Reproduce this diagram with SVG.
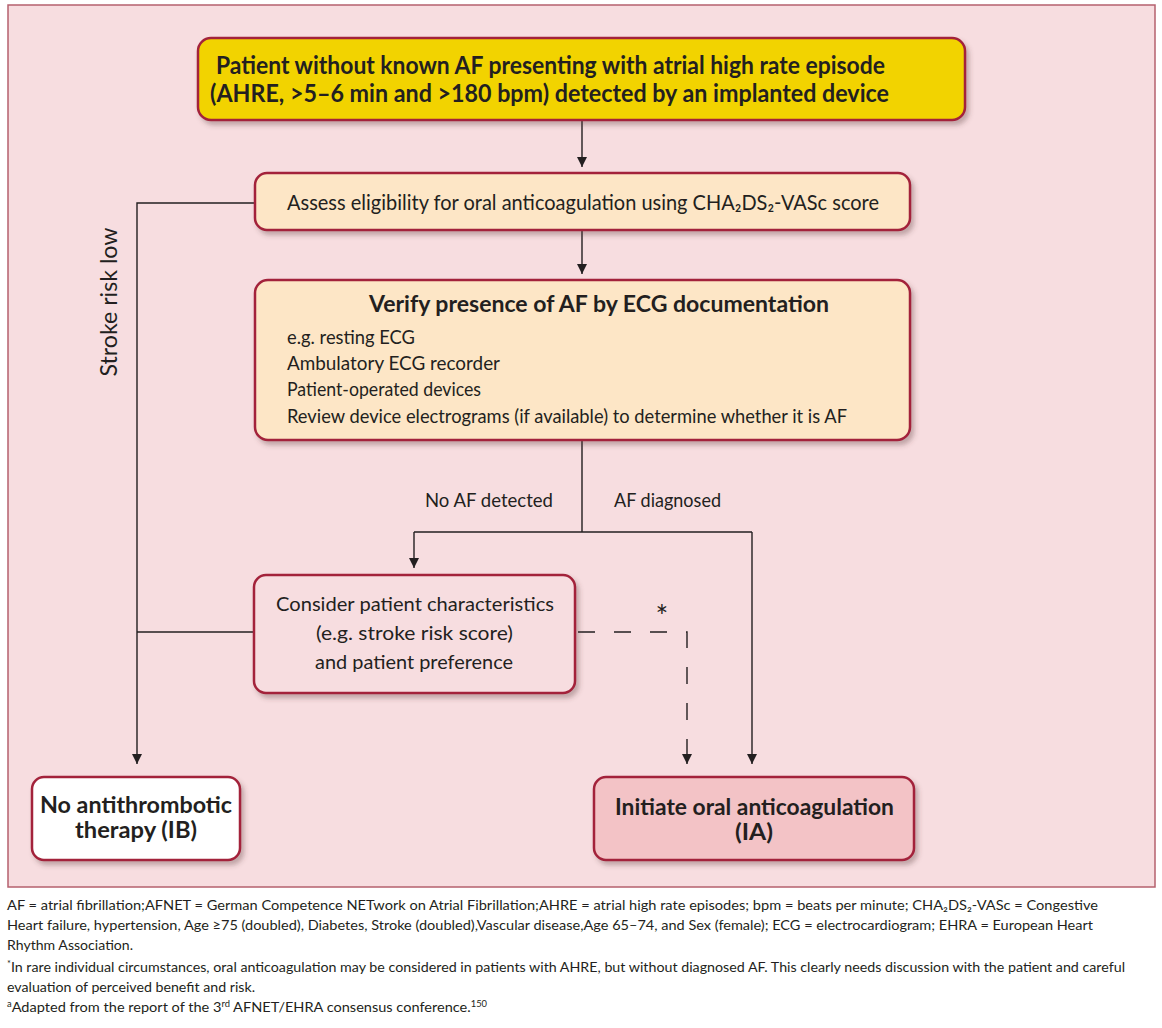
<svg xmlns="http://www.w3.org/2000/svg" width="1162" height="1028" viewBox="0 0 1162 1028">
  <defs>
    <filter id="shadow" x="-10%" y="-10%" width="125%" height="135%">
      <feDropShadow dx="3" dy="4" stdDeviation="2.5" flood-color="#5a3a3a" flood-opacity="0.35"/>
    </filter>
    <marker id="arrow" markerUnits="userSpaceOnUse" markerWidth="10" markerHeight="12" refX="10" refY="5" orient="auto">
      <path d="M0,0 L10,5 L0,10 z" fill="#231f20"/>
    </marker>
  </defs>
  <style>
    .box { stroke: #a3243b; stroke-width: 2.5; filter: url(#shadow); }
    .t { font-family: Lato, "Liberation Sans", sans-serif; fill: #231f20; }
    .b { font-weight: bold; }
    .n20 { font-size: 20px; }
    .foot { font-family: Lato, "Liberation Sans", sans-serif; font-size: 14px; fill: #231f20; }
    .conn { fill: none; stroke: #231f20; stroke-width: 1.4; }
    .dash { stroke-dasharray: 17 19; }
  </style>

  <rect width="1162" height="1028" fill="#ffffff"/>
  <!-- background panel -->
  <rect x="8" y="5" width="1147" height="882" fill="#f7dde0" stroke="#b5606e" stroke-width="1.5"/>

  <!-- connectors -->
  <g id="connectors">
    <path class="conn" d="M582,120 V167" marker-end="url(#arrow)"/>
    <path class="conn" d="M582,230 V274" marker-end="url(#arrow)"/>
    <path class="conn" d="M582,440 V532 M414,532 H752"/>
    <path class="conn" d="M414,532 V568" marker-end="url(#arrow)"/>
    <path class="conn" d="M752,532 V764" marker-end="url(#arrow)"/>
    <path class="conn" d="M255,203 H137 V764" marker-end="url(#arrow)"/>
    <path class="conn" d="M254,632 H137"/>
    <path class="conn dash" d="M578,632 H687 V750"/>
    <path class="conn" d="M687,750 V764" marker-end="url(#arrow)"/>
    <text class="t" x="662" y="627" font-size="30" text-anchor="middle">*</text>
    <text class="t n20" x="425" y="507" textLength="128" lengthAdjust="spacingAndGlyphs">No AF detected</text>
    <text class="t n20" x="614" y="507" textLength="107" lengthAdjust="spacingAndGlyphs">AF diagnosed</text>
    <text class="t" font-size="23" text-anchor="middle" transform="translate(117,302) rotate(-90)" textLength="149" lengthAdjust="spacingAndGlyphs">Stroke risk low</text>
  </g>

  <g id="start">
    <rect class="box" x="198" y="38" width="767" height="82" rx="13" fill="#f2d300"/>
    <text class="t b" font-size="24" x="216" y="74" textLength="669" lengthAdjust="spacingAndGlyphs">Patient without known AF presenting with atrial high rate episode</text>
    <text class="t b" font-size="24" x="210" y="102" textLength="679" lengthAdjust="spacingAndGlyphs">(AHRE, &gt;5–6 min and &gt;180 bpm) detected by an implanted device</text>
  </g>

  <g id="assess">
    <rect class="box" x="255" y="173" width="655" height="57" rx="12" fill="#fde6c6"/>
    <text class="t" font-size="21" x="287" y="210" textLength="592" lengthAdjust="spacingAndGlyphs">Assess eligibility for oral anticoagulation using CHA₂DS₂-VASc score</text>
  </g>

  <g id="verify">
    <rect class="box" x="255" y="280" width="655" height="160" rx="13" fill="#fde6c6"/>
    <text class="t b" font-size="22" x="369" y="312" textLength="460" lengthAdjust="spacingAndGlyphs">Verify presence of AF by ECG documentation</text>
    <text class="t n20" x="287" y="344" textLength="128" lengthAdjust="spacingAndGlyphs">e.g. resting ECG</text>
    <text class="t n20" x="287" y="370" textLength="213" lengthAdjust="spacingAndGlyphs">Ambulatory ECG recorder</text>
    <text class="t n20" x="287" y="396" textLength="194" lengthAdjust="spacingAndGlyphs">Patient-operated devices</text>
    <text class="t n20" x="287" y="423" textLength="560" lengthAdjust="spacingAndGlyphs">Review device electrograms (if available) to determine whether it is AF</text>
  </g>

  <g id="consider">
    <rect class="box" x="254" y="575" width="321" height="118" rx="12" fill="#f7dde0"/>
    <text class="t n20" x="276" y="611" textLength="278" lengthAdjust="spacingAndGlyphs">Consider patient characteristics</text>
    <text class="t n20" x="316" y="640" textLength="197" lengthAdjust="spacingAndGlyphs">(e.g. stroke risk score)</text>
    <text class="t n20" x="315" y="669" textLength="198" lengthAdjust="spacingAndGlyphs">and patient preference</text>
  </g>

  <g id="no-therapy">
    <rect class="box" x="32" y="777" width="208" height="83" rx="12" fill="#ffffff"/>
    <text class="t b" font-size="22" x="40" y="813" textLength="192" lengthAdjust="spacingAndGlyphs">No antithrombotic</text>
    <text class="t b" font-size="22" x="75" y="838" textLength="122" lengthAdjust="spacingAndGlyphs">therapy (IB)</text>
  </g>

  <g id="oac">
    <rect class="box" x="594" y="777" width="320" height="83" rx="12" fill="#f3c3c6"/>
    <text class="t b" font-size="22" x="615" y="815" textLength="279" lengthAdjust="spacingAndGlyphs">Initiate oral anticoagulation</text>
    <text class="t b" font-size="22" x="735" y="840" textLength="38" lengthAdjust="spacingAndGlyphs">(IA)</text>
  </g>

  <!-- footnotes -->
  <g id="footnotes">
    <text class="foot" x="7" y="910" textLength="1091" lengthAdjust="spacingAndGlyphs">AF = atrial fibrillation;AFNET = German Competence NETwork on Atrial Fibrillation;AHRE = atrial high rate episodes; bpm = beats per minute; CHA₂DS₂-VASc = Congestive</text>
    <text class="foot" x="7" y="930" textLength="1086" lengthAdjust="spacingAndGlyphs">Heart failure, hypertension,  Age ≥75 (doubled), Diabetes, Stroke (doubled),Vascular disease,Age 65–74, and Sex (female); ECG = electrocardiogram; EHRA = European Heart</text>
    <text class="foot" x="7" y="950" textLength="126" lengthAdjust="spacingAndGlyphs">Rhythm Association.</text>
    <text class="foot" x="7" y="972" textLength="1118" lengthAdjust="spacingAndGlyphs"><tspan font-size="9" dy="-5">*</tspan><tspan dy="5">In rare individual circumstances, oral anticoagulation may be considered in patients with AHRE, but without diagnosed AF. This clearly needs discussion with the patient and careful</tspan></text>
    <text class="foot" x="7" y="992" textLength="248" lengthAdjust="spacingAndGlyphs">evaluation of perceived benefit and risk.</text>
    <text class="foot" x="7" y="1012" textLength="480" lengthAdjust="spacingAndGlyphs"><tspan font-size="9" dy="-5">a</tspan><tspan dy="5">Adapted from the report of the 3</tspan><tspan font-size="9" dy="-5">rd</tspan><tspan dy="5"> AFNET/EHRA consensus conference.</tspan><tspan font-size="9" dy="-5">150</tspan></text>
  </g>
</svg>
